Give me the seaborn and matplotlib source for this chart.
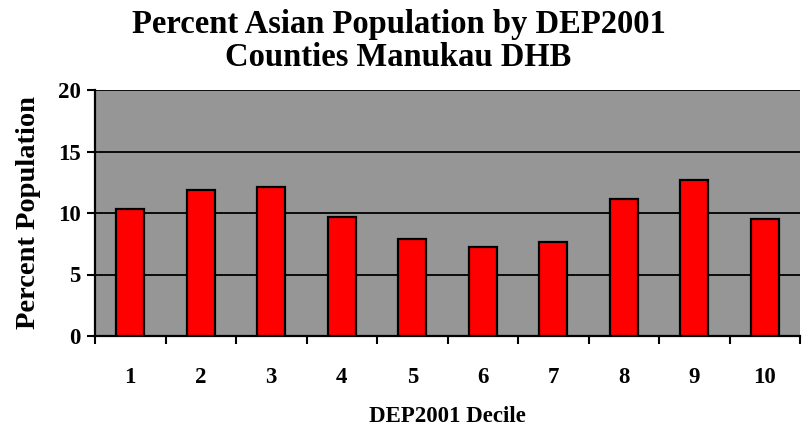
import matplotlib
matplotlib.use("Agg")
import matplotlib.pyplot as plt
import seaborn as sns
import pandas as pd
import numpy as np

# Percent Asian population per DEP2001 deprivation decile
deciles = ["1", "2", "3", "4", "5", "6", "7", "8", "9", "10"]
percent_asian = [10.35, 11.87, 12.11, 9.65, 7.86, 7.26, 7.64, 11.14, 12.71, 9.51]
y_ticks = [0, 5, 10, 15, 20]

df = pd.DataFrame({"decile": deciles, "percent": percent_asian})

sns.set_theme(style="white")
plt.rcParams["font.family"] = ["Liberation Serif", "DejaVu Serif"]
plt.rcParams["font.weight"] = "bold"
plt.rcParams["text.color"] = "black"
plt.rcParams["axes.labelcolor"] = "black"
plt.rcParams["xtick.color"] = "black"
plt.rcParams["ytick.color"] = "black"

fig = plt.figure(figsize=(8.02, 4.28), dpi=100)
ax = fig.add_axes([95 / 802, 1 - 336 / 428, 705 / 802, 246 / 428])
ax.set_facecolor("#969696")

sns.barplot(data=df, x="decile", y="percent", order=deciles, color="#FF0000",
            width=0.4, edgecolor="black", linewidth=1.6, saturation=1,
            ax=ax, zorder=3)

ax.set_ylim(0, 20)
ax.set_xlim(-0.5, len(deciles) - 0.5)
ax.set_yticks(y_ticks)
ax.yaxis.grid(True, color="black", linewidth=1.3, zorder=1)
ax.set_axisbelow(True)

# category ticks sit between bars, labels centred under bars
ax.set_xticks(np.arange(len(deciles)))
ax.set_xticklabels(deciles, fontsize=16.5, fontweight="bold", color="black")
ax.tick_params(axis="x", which="major", length=0, pad=22)
ax.set_xticks(np.arange(-0.5, len(deciles), 1.0), minor=True)
ax.tick_params(axis="x", which="minor", length=5.5, width=1.5, color="black",
               direction="out", bottom=True)
ax.tick_params(axis="y", length=5.5, width=1.5, color="black", direction="out",
               left=True, pad=5, labelsize=16.5, labelcolor="black")
for lbl in ax.get_yticklabels():
    lbl.set_fontweight("bold")

for side in ["top", "right"]:
    ax.spines[side].set_visible(False)
for side in ["left", "bottom"]:
    ax.spines[side].set_color("black")
    ax.spines[side].set_linewidth(1.6)

ax.set_xlabel("DEP2001 Decile", fontsize=16.5, fontweight="bold", labelpad=13,
              color="black")
ax.set_ylabel("Percent Population", fontsize=20.5, fontweight="bold",
              labelpad=12, color="black")

fig.text(0.497, 0.943, "Percent Asian Population by DEP2001", ha="center",
         va="center", fontsize=23.5, fontweight="bold", color="black")
fig.text(0.497, 0.865, "Counties Manukau DHB", ha="center", va="center",
         fontsize=23.5, fontweight="bold", color="black")

fig.savefig("out.png", dpi=100)
